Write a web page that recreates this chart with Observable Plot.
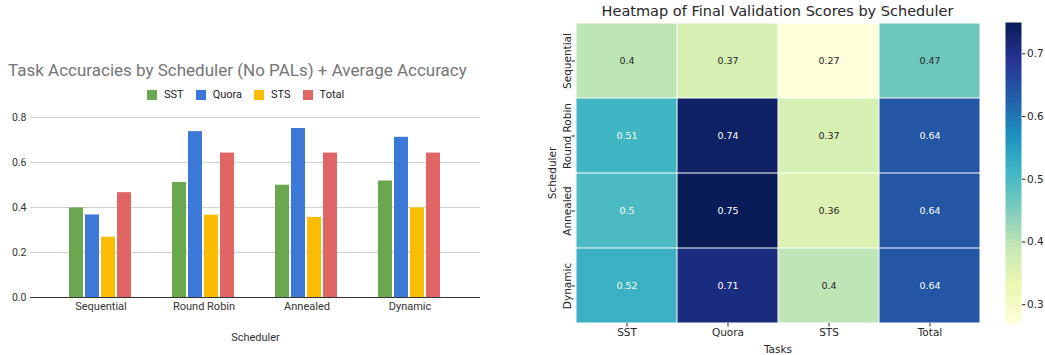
<!DOCTYPE html>
<html><head><meta charset="utf-8">
<script src="https://cdn.jsdelivr.net/npm/d3@7"></script>
<script src="https://cdn.jsdelivr.net/npm/@observablehq/plot@0.6"></script>
<style>
body{margin:0;background:#fff;width:1045px;height:355px;overflow:hidden;position:relative}
.abs{position:absolute}
#ltitle{left:8px;top:59px;font-family:Roboto;font-size:17px;color:#757575;white-space:nowrap;line-height:22px}
#legend{left:147px;top:88px;font-family:Roboto;font-size:11px;color:#222;display:flex;align-items:center;line-height:14px}
#legend .it{display:flex;align-items:center;margin-right:12px}
#legend .sw{width:10px;height:10px;margin-right:7px}
#htitle{left:530px;width:495px;top:2px;text-align:center;font-family:"DejaVu Sans";font-size:14.5px;color:#262626;line-height:18px;white-space:nowrap}
</style></head><body>
<div id="ltitle" class="abs">Task Accuracies by Scheduler (No PALs) + Average Accuracy</div>
<div id="legend" class="abs"></div>
<div id="grid" class="abs" style="left:0;top:100px"></div>
<div id="bars" class="abs" style="left:0;top:100px"></div>
<div id="heat" class="abs" style="left:530px;top:0"></div>
<div id="htitle" class="abs">Heatmap of Final Validation Scores by Scheduler</div>
<div id="cbar" class="abs" style="left:1000px;top:0"></div>
<script>
const schedulers = ["Sequential", "Round Robin", "Annealed", "Dynamic"];
const tasks = ["SST", "Quora", "STS", "Total"];
const sst   = [0.398, 0.511, 0.499, 0.518];
const quora = [0.367, 0.737, 0.751, 0.712];
const sts   = [0.268, 0.366, 0.356, 0.398];
const total = [0.466, 0.642, 0.642, 0.642];
const taskColors = ["#6aa84f", "#3c78d8", "#fbbc04", "#e06666"];
const yTicks = [0, 0.2, 0.4, 0.6, 0.8];
const cbarTicks = [0.3, 0.4, 0.5, 0.6, 0.7];
const colorDomain = [0.27, 0.75];
// matplotlib / ColorBrewer YlGnBu anchor colours (linearly interpolated like matplotlib)
const ylgnbu = ["#ffffd9", "#edf8b1", "#c7e9b4", "#7fcdbb", "#41b6c4", "#1d91c0", "#225ea8", "#253494", "#081d58"];
const interp = d3.piecewise(d3.interpolateRgb, ylgnbu);

const series = [sst, quora, sts, total];
const rows = schedulers.flatMap((s, i) => tasks.map((t, j) => ({scheduler: s, task: t, value: series[j][i]})));

// legend
const leg = document.getElementById("legend");
tasks.forEach((t, j) => {
  const it = document.createElement("div"); it.className = "it";
  const sw = document.createElement("div"); sw.className = "sw"; sw.style.background = taskColors[j];
  const tx = document.createElement("span"); tx.textContent = t;
  it.appendChild(sw); it.appendChild(tx); leg.appendChild(it);
});

// bar chart: shared frame settings
const frame = {width: 490, height: 250, marginTop: 17, marginBottom: 53, marginLeft: 30, marginRight: 10};

// underlay: gridlines + y axis across the whole frame
const grid = Plot.plot({
  ...frame,
  style: {fontFamily: "Roboto", fontSize: "10.5px", color: "#333", background: "transparent"},
  y: {domain: [0, 0.8]},
  marks: [
    Plot.ruleY(yTicks.slice(1), {stroke: "#d0d0d0"}),
    Plot.ruleY([0], {stroke: "#333"}),
    Plot.axisY({ticks: yTicks, tickSize: 0, tickPadding: 4, tickFormat: d3.format(".1f"), label: null})
  ]
});
document.getElementById("grid").appendChild(grid);

// bars, faceted by scheduler
const bars = Plot.plot({
  ...frame,
  style: {fontFamily: "Roboto", fontSize: "11px", color: "#333", background: "transparent"},
  fx: {domain: schedulers, paddingInner: 0.365, paddingOuter: 0.346},
  x: {domain: tasks, paddingInner: 0.12, paddingOuter: 0, axis: null},
  y: {domain: [0, 0.8], axis: null},
  color: {domain: tasks, range: taskColors},
  marks: [
    Plot.barY(rows, {fx: "scheduler", x: "task", y: "value", fill: "task"}),
    Plot.axisFx({anchor: "bottom", tickSize: 0, tickPadding: 5, label: "Scheduler", labelAnchor: "center", labelOffset: 43})
  ]
});
document.getElementById("bars").appendChild(bars);

// heatmap
function lum(c) {
  const r = d3.rgb(c);
  const f = v => { v /= 255; return v <= 0.03928 ? v / 12.92 : Math.pow((v + 0.055) / 1.055, 2.4); };
  return 0.2126 * f(r.r) + 0.7152 * f(r.g) + 0.0722 * f(r.b);
}
const isDark = d => lum(interp((d.value - colorDomain[0]) / (colorDomain[1] - colorDomain[0]))) <= 0.408;
const fmt = d3.format(".2");

const heat = Plot.plot({
  width: 465, height: 355,
  marginTop: 22, marginBottom: 32, marginLeft: 45, marginRight: 15,
  style: {fontFamily: "DejaVu Sans", fontSize: "10.5px", color: "#262626", background: "transparent"},
  x: {domain: tasks, padding: 0},
  y: {domain: schedulers, padding: 0},
  color: {type: "linear", domain: colorDomain, interpolate: interp},
  marks: [
    Plot.cell(rows, {x: "task", y: "scheduler", fill: "value", inset: 0.5}),
    Plot.text(rows.filter(d => !isDark(d)), {x: "task", y: "scheduler", text: d => fmt(d.value), fill: "#262626", fontSize: 9.5}),
    Plot.text(rows.filter(d => isDark(d)), {x: "task", y: "scheduler", text: d => fmt(d.value), fill: "#ffffff", fontSize: 9.5}),
    Plot.axisX({tickSize: 3.5, tickPadding: 1.5, label: "Tasks", labelAnchor: "center"}),
    Plot.axisY({tickSize: 3.5, tickPadding: 1.5, tickRotate: -90, label: "Scheduler", labelAnchor: "center", labelOffset: 27})
  ]
});
document.getElementById("heat").appendChild(heat);

// colorbar
const cbar = Plot.plot({
  width: 45, height: 355,
  marginTop: 22, marginBottom: 32, marginLeft: 5, marginRight: 24,
  style: {fontFamily: "DejaVu Sans", fontSize: "10.5px", color: "#262626", background: "transparent"},
  x: {domain: [0, 1], axis: null},
  y: {domain: colorDomain},
  color: {type: "linear", domain: colorDomain, interpolate: interp},
  marks: [
    Plot.raster({x1: 0, x2: 1, y1: colorDomain[0], y2: colorDomain[1], fill: (x, y) => y, width: 1, height: 300}),
    Plot.axisY({anchor: "right", ticks: cbarTicks, tickSize: 3.5, tickPadding: 2, label: null, tickFormat: d3.format(".1f")})
  ]
});
document.getElementById("cbar").appendChild(cbar);
</script>
</body></html>
